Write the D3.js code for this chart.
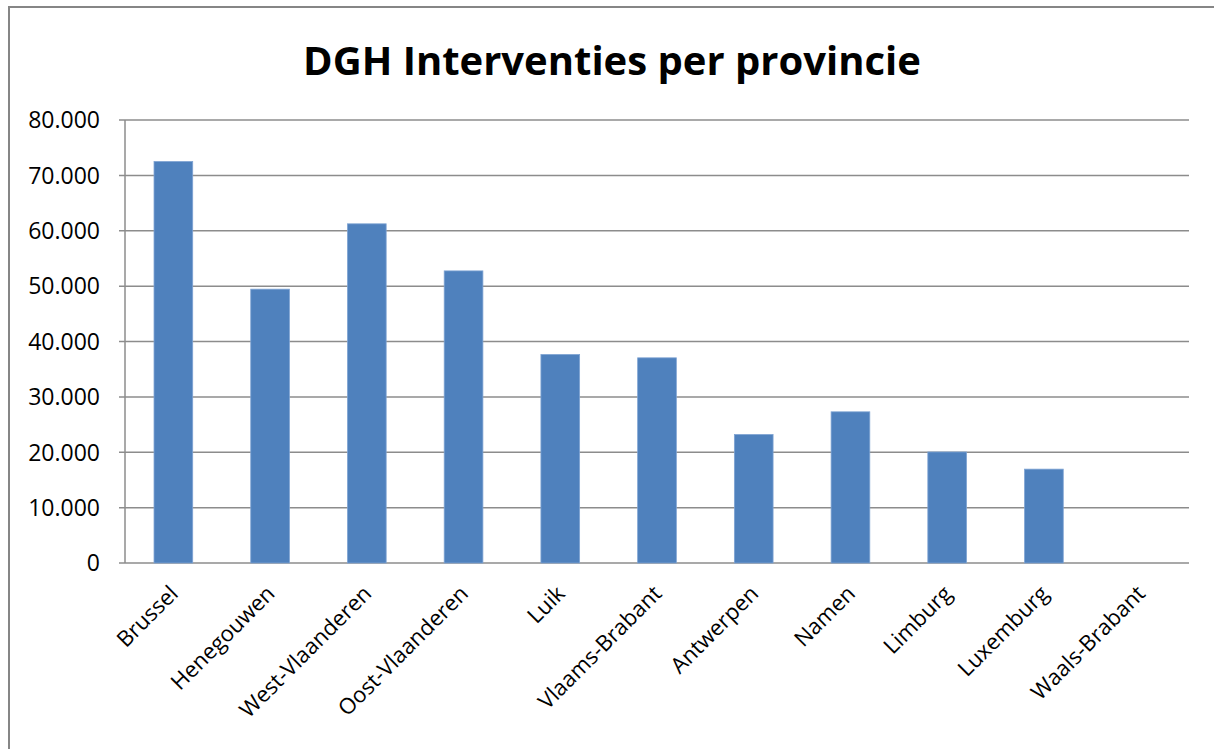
<!DOCTYPE html>
<html>
<head>
<meta charset="utf-8">
<script src="https://cdn.jsdelivr.net/npm/d3@7"></script>
<style>
  body { margin: 0; background: #fff; }
  text { font-family: "Open Sans", "DejaVu Sans", sans-serif; }
</style>
</head>
<body>
<div id="chart"></div>
<script>
var provinces = ["Brussel", "Henegouwen", "West-Vlaanderen", "Oost-Vlaanderen", "Luik",
  "Vlaams-Brabant", "Antwerpen", "Namen", "Limburg", "Luxemburg", "Waals-Brabant"];
var interventions = [72500, 49450, 61250, 52750, 37650, 37050, 23200, 27300, 20050, 16950, 0];
var yTicks = [0, 10000, 20000, 30000, 40000, 50000, 60000, 70000, 80000];

var width = 1214, height = 749;
var margin = {top: 120, right: 25, bottom: 186, left: 125};

var svg = d3.select("#chart").append("svg")
    .attr("width", width)
    .attr("height", height);

// chart frame
svg.append("rect")
    .attr("x", 9).attr("y", 7)
    .attr("width", width + 20).attr("height", height + 20)
    .attr("fill", "#fff")
    .attr("stroke", "#868686")
    .attr("stroke-width", 2);

svg.append("text")
    .attr("x", 612).attr("y", 75)
    .attr("text-anchor", "middle")
    .style("font-size", "40px")
    .style("font-weight", "bold")
    .text("DGH Interventies per provincie");

var x = d3.scaleBand()
    .domain(provinces)
    .range([margin.left, width - margin.right])
    .paddingInner(0.6)
    .paddingOuter(0.3);

var y = d3.scaleLinear()
    .domain([0, 80000])
    .range([height - margin.bottom, margin.top]);

var fmt = function (d) {
  return d === 0 ? "0" : d3.format(",")(d).replace(/,/g, ".");
};

// gridlines
svg.append("g")
    .selectAll("line")
    .data(yTicks)
    .enter().append("line")
    .attr("x1", margin.left - 6)
    .attr("x2", width - margin.right)
    .attr("y1", function (d) { return y(d); })
    .attr("y2", function (d) { return y(d); })
    .attr("stroke", "#8c8c8c")
    .attr("stroke-width", 1.5);

// y axis line
svg.append("line")
    .attr("x1", margin.left).attr("x2", margin.left)
    .attr("y1", y(80000)).attr("y2", y(0))
    .attr("stroke", "#8c8c8c")
    .attr("stroke-width", 1.5);

svg.append("g")
    .selectAll("text")
    .data(yTicks)
    .enter().append("text")
    .attr("x", 100)
    .attr("y", function (d) { return y(d); })
    .attr("dy", "0.36em")
    .attr("text-anchor", "end")
    .style("font-size", "23px")
    .style("fill", "#000")
    .text(fmt);

svg.append("g")
    .selectAll("rect")
    .data(provinces)
    .enter().append("rect")
    .attr("x", function (d) { return x(d); })
    .attr("width", x.bandwidth())
    .attr("y", function (d, i) { return y(interventions[i]); })
    .attr("height", function (d, i) { return y(0) - y(interventions[i]); })
    .attr("fill", "#4f81bd")
    .attr("stroke", "#7ea3d3")
    .attr("stroke-width", 0.8);

// category labels
svg.append("g")
    .selectAll("text")
    .data(provinces)
    .enter().append("text")
    .attr("transform", function (d) {
      return "translate(" + (x(d) + x.bandwidth() / 2 + 6) + "," + (y(0) + 32) + ") rotate(-45)";
    })
    .attr("text-anchor", "end")
    .style("font-size", "22px")
    .style("fill", "#000")
    .text(function (d) { return d; });
</script>
</body>
</html>
